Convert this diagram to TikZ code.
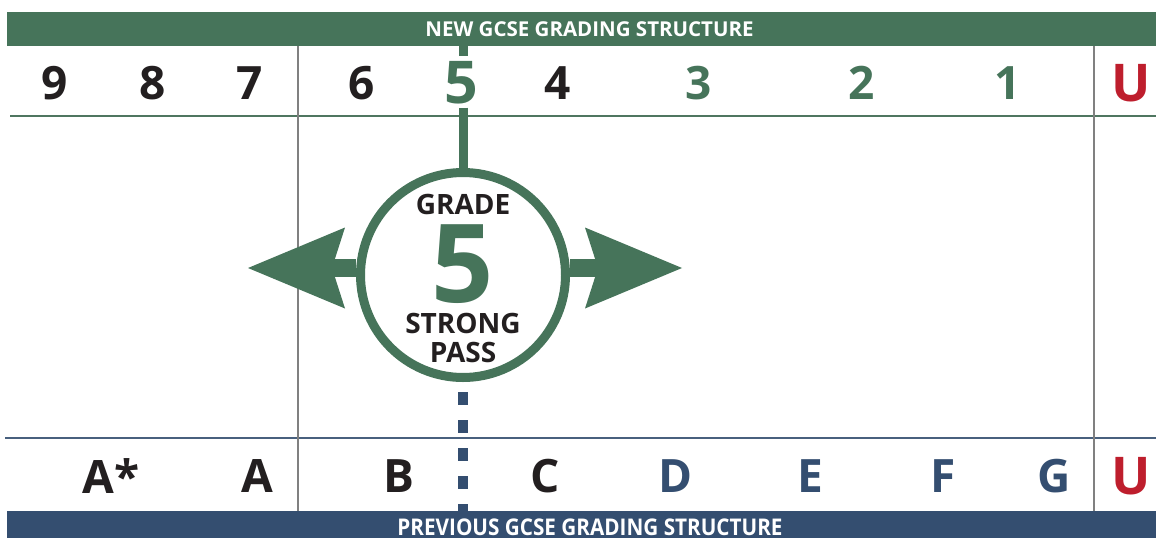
\documentclass[tikz,border=0pt]{standalone}
\usepackage{fontspec}
\setmainfont{Open Sans}
\usepackage{graphicx}
\usetikzlibrary{arrows.meta, positioning}
\definecolor{gcsegreen}{RGB}{70,116,90}
\definecolor{gcseblue}{RGB}{52,78,112}
\definecolor{gcsered}{RGB}{190,30,45}
\definecolor{gcseblack}{RGB}{35,31,32}
\definecolor{gcsegrey}{RGB}{128,128,128}

\begin{document}
\begin{tikzpicture}[
        x=1pt, y=-1pt, on grid, inner sep=0pt,
        grade/.style={text=gcseblack, font=\bfseries\fontsize{46}{46}\selectfont},
        newpass/.style={grade, text=gcsegreen},
        oldlow/.style={grade, text=gcseblue},
        ungraded/.style={text=gcsered, font=\bfseries\fontsize{52}{52}\selectfont},
        banner/.style={minimum width=1149pt, outer sep=0pt},
        bannertext/.style={text=white, font=\bfseries\fontsize{20.5}{20.5}\selectfont},
        divider/.style={gcsegrey, line width=1.5pt},
        gradeline/.style={gcsegreen, line width=9pt},
        oldline/.style={gcseblue, line width=10pt, dash pattern=on 13pt off 15pt, dash phase=18pt},
        passarrow/.style={gcsegreen, line width=18pt,
          -{Stealth[length=97pt, width=81pt, inset=13pt, line width=0pt]}},
        ringtext/.style={text=gcseblack, font=\bfseries\fontsize{28}{28}\selectfont}
        ]
        \useasboundingbox (0,0) rectangle (1156,538);

        \node[banner, fill=gcsegreen, minimum height=34pt] (newbar) at (581.5,29) {};
        \node[banner, fill=gcseblue, minimum height=27pt]  (oldbar) at (581.5,524.5) {};
        \node[bannertext] (newtitle) at (589.5,29) {NEW GCSE GRADING STRUCTURE};
        \node[bannertext, font=\bfseries\fontsize{23}{23}\selectfont] (oldtitle) at (590,527.5)
          {\scalebox{0.9}[1]{PREVIOUS GCSE GRADING STRUCTURE}};

        \draw[gcsegreen!85!gray, line width=2pt] (10,116) -- (1156,116);
        \draw[gcseblue!90!white, line width=1.8pt] (5,438) -- (1156,438);
        \draw[divider] (298,46) -- (298,511);
        \draw[divider] (1094,46) -- (1094,511);

        \node[grade]    (n_9)                      at (55,83) {9};
        \node[grade]    (n_8) [right=98pt of n_9]  {8};
        \node[grade]    (n_7) [right=97pt of n_8]  {7};
        \node[grade]    (n_6) [right=112pt of n_7] {6};
        \node[newpass, font=\bfseries\fontsize{59}{59}\selectfont]
                        (n_5) [right=99.5pt of n_6] {5};
        \node[grade]    (n_4) [right=96.5pt of n_5] {4};
        \node[newpass]  (n_3) [right=141pt of n_4] {3};
        \node[newpass]  (n_2) [right=163pt of n_3] {2};
        \node[newpass]  (n_1) [right=146pt of n_2] {1};
        \node[ungraded] (n_U) [right=123pt of n_1] {U};

        \node[grade]    (o_As)                      at (111,476) {A*};
        \node[grade]    (o_A) [right=146pt of o_As] {A};
        \node[grade]    (o_B) [right=142pt of o_A]  {B};
        \node[grade]    (o_C) [right=146pt of o_B]  {C};
        \node[oldlow]   (o_D) [right=131pt of o_C]  {D};
        \node[oldlow]   (o_E) [right=134pt of o_D]  {E};
        \node[oldlow]   (o_F) [right=133pt of o_E]  {F};
        \node[oldlow]   (o_G) [right=111pt of o_F]  {G};
        \node[ungraded] (o_U) [right=77pt of o_G]   {U};

        \node[circle, draw=gcsegreen, line width=9pt, fill=white, minimum size=205pt] (grade5) at (463,275) {};
        \node[ringtext] (g_grade)  at (463,204) {GRADE};
        \node[newpass, font=\bfseries\fontsize{109}{109}\selectfont] (g_five) at (463,264) {5};
        \node[ringtext] (g_strong) at (463,323) {STRONG};
        \node[ringtext] (g_pass)   at (463,352.5) {PASS};

        \coordinate (lefttip)  at (248,268);
        \coordinate (righttip) at (682,268);

        \draw[gradeline, shorten >=5pt] (newbar.south -| grade5.north) -- (n_5.north -| grade5.north);
        \draw[gradeline, shorten <=3pt, shorten >=-4pt] (n_5.south -| grade5.north) -- (grade5.north);
        \draw[oldline] (grade5.south) -- (oldbar.north -| grade5.south);
        \draw[passarrow] ([yshift=7pt]grade5.west) -- (lefttip);
        \draw[passarrow] ([yshift=7pt]grade5.east) -- (righttip);
      \end{tikzpicture}
\end{document}
